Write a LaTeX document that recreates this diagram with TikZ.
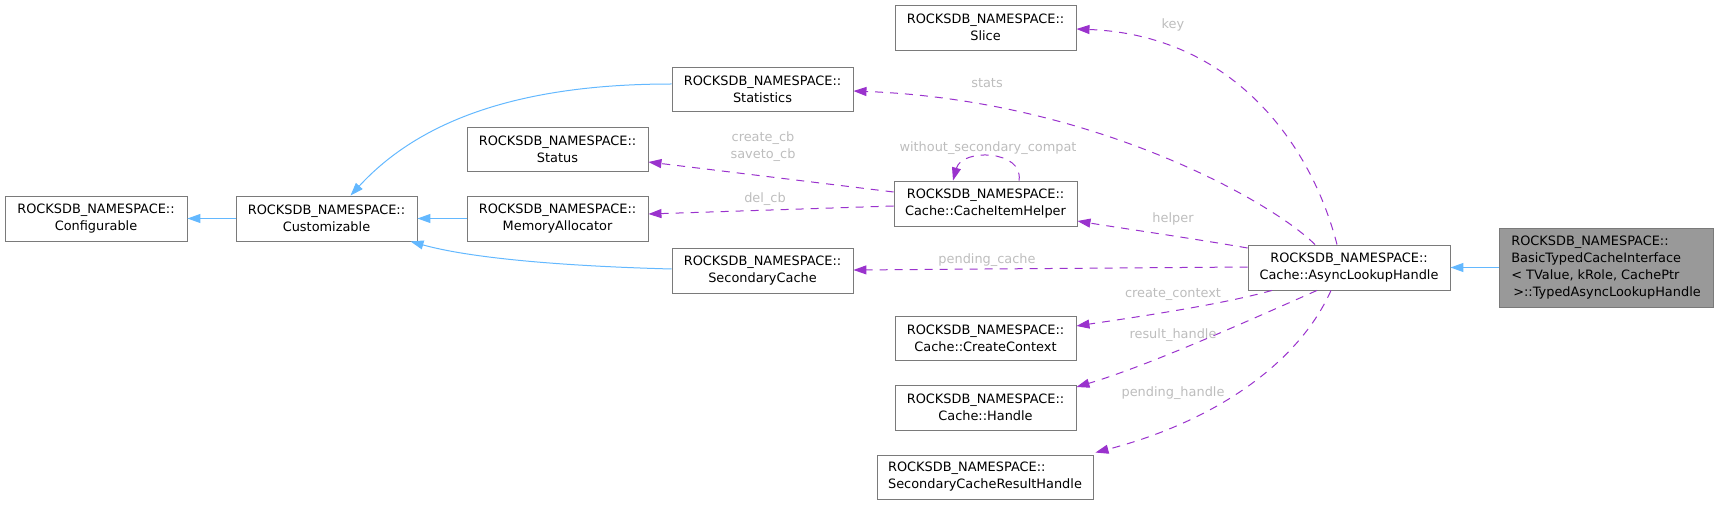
\documentclass[tikz,border=0pt]{standalone}
\usepackage{fontspec}
\setmainfont{DejaVu Sans}
\usetikzlibrary{arrows.meta}
\definecolor{edgeblue}{HTML}{63B8FF}
\definecolor{edgepurple}{HTML}{9A32CD}
\definecolor{boxgray}{HTML}{7A7A7A}
\definecolor{labelgray}{HTML}{BDBDBD}
\definecolor{targetfill}{HTML}{999999}
\newcommand{\nodefont}{\fontsize{12.9pt}{17pt}\selectfont}
\newcommand{\nsp}{ROCKSDB\_NAMESPACE::}
\tikzset{
  box/.style={draw=boxgray, fill=white, line width=0.9pt, inner sep=0pt,
    align=center, font=\nodefont, minimum height=45pt, minimum width=181pt},
  inh/.style={draw=edgeblue, line width=1pt, -{Triangle[length=13pt,width=9pt]}},
  use/.style={draw=edgepurple, line width=1pt, dash pattern=on 8pt off 7pt,
    -{Triangle[length=13pt,width=9pt]}},
  elabel/.style={text=labelgray, font=\nodefont, inner sep=0pt, align=center}
}
\begin{document}
\begin{tikzpicture}[x=1pt,y=-1pt]
\useasboundingbox (0,0) rectangle (1719,505);
% nodes
\node[box, minimum width=182pt] (conf) at (96,218.5) {\nsp\\Configurable};
\node[box] (cust) at (326.5,218.5) {\nsp\\Customizable};
\node[box, minimum height=44pt] (stat) at (762.5,89) {\nsp\\Statistics};
\node[box, minimum height=44pt] (status) at (557.5,149) {\nsp\\Status};
\node[box] (mem) at (557.5,218.5) {\nsp\\MemoryAllocator};
\node[box] (sec) at (762.5,270.5) {\nsp\\SecondaryCache};
\node[box] (slice) at (985.5,27.5) {\nsp\\Slice};
\node[box, minimum width=183pt] (helper) at (985.5,203.5) {\nsp\\Cache::CacheItemHelper};
\node[box, minimum width=202pt] (async) at (1349,267.5) {\nsp\\Cache::AsyncLookupHandle};
\node[box, minimum width=214pt, minimum height=79pt, fill=targetfill, align=left] (typed) at (1606,267.5)
  {\nsp\\BasicTypedCacheInterface\\< TValue, kRole, CachePtr\\\hspace*{2pt}>::TypedAsyncLookupHandle};
\node[box, minimum height=44pt] (ctx) at (985.5,338) {\nsp\\Cache::CreateContext};
\node[box] (handle) at (985.5,407.5) {\nsp\\Cache::Handle};
\node[box, minimum width=216pt, minimum height=44pt, align=left] (scrh) at (985,477) {\nsp\\SecondaryCacheResultHandle};

% inheritance edges
\draw[inh] (cust.west) -- (conf.east);
\draw[inh] ([yshift=5pt]stat.west) .. controls (520,84) and (420,120) .. ([xshift=24pt]cust.north);
\draw[inh] (mem.west) -- (cust.east);
\draw[inh] ([yshift=1.5pt]sec.west) .. controls (560,266) and (470,258) .. ([xshift=84pt]cust.south);
\draw[inh] (typed.west) -- (async.east);

% usage edges
\draw[use] ([xshift=-12pt]async.north) .. controls (1310,140) and (1230,35) .. ([yshift=-1.5pt]slice.east);
\draw[use] ([xshift=-34pt]async.north) .. controls (1270,200) and (1090,100) .. ([yshift=-2pt]stat.east);
\draw[use] ([yshift=11.5pt]helper.west) -- ([yshift=-13pt]status.east);
\draw[use] ([yshift=-2.5pt]helper.west) -- ([yshift=4.5pt]mem.east);
\draw[use] ([xshift=33.5pt]helper.north) .. controls (1024,150) and (962,148) .. ([xshift=-32.5pt]helper.north);
\draw[use] ([yshift=19.5pt]async.west) .. controls (1190,238) and (1120,228) .. ([yshift=-17.5pt]helper.east);
\draw[use] ([yshift=0.5pt]async.west) -- ([yshift=0.5pt]sec.east);
\draw[use] ([xshift=-77pt]async.south) .. controls (1220,305) and (1130,318) .. ([yshift=12pt]ctx.east);
\draw[use] ([xshift=-32pt]async.south) .. controls (1250,320) and (1150,365) .. ([yshift=20.5pt]handle.east);
\draw[use] ([xshift=-18pt]async.south) .. controls (1300,360) and (1220,420) .. ([xshift=2pt,yshift=2pt]scrh.north east);

% edge labels
\node[elabel] (lkey) at (1173,25) {key};
\node[elabel] (lstats) at (987,83) {stats};
\node[elabel] (lcb) at (763,146.5) {create\_cb\\saveto\_cb};
\node[elabel] (ldel) at (765,199) {del\_cb};
\node[elabel] (lwsc) at (988,148) {without\_secondary\_compat};
\node[elabel] (lhelper) at (1173,219) {helper};
\node[elabel] (lpc) at (987,260) {pending\_cache};
\node[elabel] (lctx) at (1173,294) {create\_context};
\node[elabel] (lrh) at (1173,335) {result\_handle};
\node[elabel] (lph) at (1173,393) {pending\_handle};
\end{tikzpicture}
\end{document}
